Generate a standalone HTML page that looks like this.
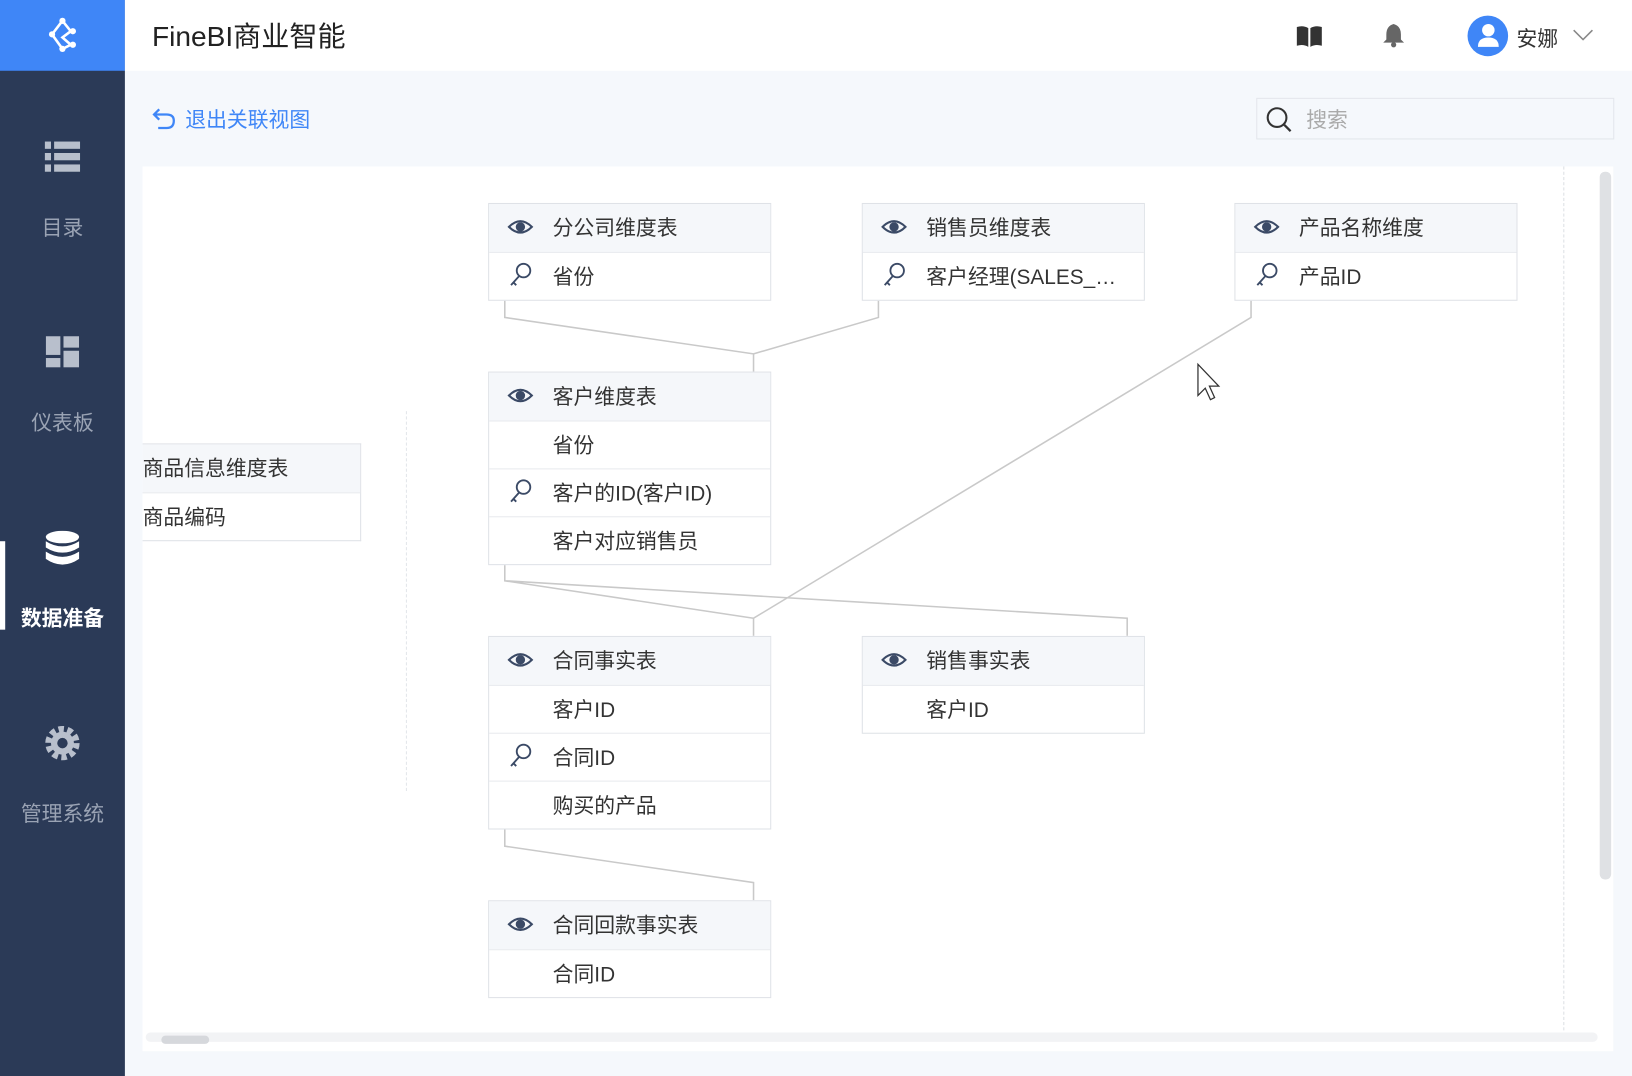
<!DOCTYPE html>
<html><head><meta charset="utf-8"><style>
*{margin:0;padding:0;box-sizing:border-box}
body{width:1632px;height:1076px;overflow:hidden;background:#f5f8fc;font-family:"Liberation Sans","Noto Sans CJK SC",sans-serif}
#w{position:absolute;left:0;top:0;width:1568px;height:1034px;transform:scale(1.0408);transform-origin:0 0;background:#f5f8fc}
.a{position:absolute}
.side{left:0;top:0;width:120px;height:1034px;background:#2b3a57}
.logo{left:0;top:0;width:120px;height:68px;background:#3f86f7}
.lbl{width:120px;text-align:center;font-size:20px;color:#9aa3b4}
.hdr{left:120px;top:0;width:1448px;height:68px;background:#fff}
.t{position:absolute;width:272px;background:#fff;border:1px solid #dfe2e7}
.t div{height:46px;border-top:1px solid #e8eaee;font-size:20px;color:#333;line-height:48px;padding-left:61px;position:relative}
.t div:first-child{border-top:none;background:#f5f7fa}
</style></head><body><div id="w">
<div class="a side"></div>
<div class="a logo"><svg width="120" height="68"><g fill="none" stroke="#fff" stroke-width="2.5"><path d="M60 20 L50 33 L60 47 M60 20 L68 30 L60 36 L68 43 L60 47"/></g><g fill="#fff"><circle cx="60" cy="20" r="3"/><circle cx="50" cy="33" r="3"/><circle cx="60" cy="47" r="3"/><circle cx="70" cy="30" r="3"/><circle cx="70" cy="43" r="3"/></g></svg></div>
<svg class="a" style="left:43px;top:136px" width="34" height="30" fill="#b8bfcc"><rect x="0" y="0" width="6" height="7"/><rect x="9" y="0" width="25" height="7"/><rect x="0" y="11" width="6" height="7"/><rect x="9" y="11" width="25" height="7"/><rect x="0" y="22" width="6" height="7"/><rect x="9" y="22" width="25" height="7"/></svg>
<div class="a lbl" style="top:203px">目录</div>
<svg class="a" style="left:44px;top:323px" width="32" height="30" fill="#b8bfcc"><rect x="0" y="0" width="14" height="18"/><rect x="17" y="0" width="15" height="11"/><rect x="0" y="21" width="14" height="9"/><rect x="17" y="14" width="15" height="16"/></svg>
<div class="a lbl" style="top:390px">仪表板</div>
<div class="a" style="left:0;top:520px;width:5px;height:85px;background:#fff"></div>
<svg class="a" style="left:43px;top:510px" width="34" height="34" fill="#fff"><ellipse cx="17" cy="6" rx="16" ry="6"/><path d="M1 10 Q17 20 33 10 V16 Q17 26 1 16Z"/><path d="M1 20 Q17 30 33 20 V27 Q17 38 1 27Z"/></svg>
<div class="a lbl" style="top:578px;color:#fff;font-weight:bold">数据准备</div>
<svg class="a" style="left:42px;top:696px" width="36" height="36"><circle cx="18" cy="18" r="13" fill="none" stroke="#b8bfcc" stroke-width="7" stroke-dasharray="5 3.2"/><circle cx="18" cy="18" r="11" fill="#b8bfcc"/><circle cx="18" cy="18" r="5" fill="#2b3a57"/></svg>
<div class="a lbl" style="top:766px">管理系统</div>
<div class="a hdr"></div>
<div class="a" style="left:146px;top:13px;font-size:27px;color:#222">FineBI商业智能</div>
<svg class="a" style="left:1245px;top:24px" width="26" height="22" fill="#333"><path d="M1 2 Q7 0 12 3 V21 Q7 18 1 20Z M14 3 Q19 0 25 2 V20 Q19 18 14 21Z"/></svg>
<svg class="a" style="left:1328px;top:22px" width="22" height="24" fill="#666"><path d="M11 1 Q4 3 4 11 V16 L1 19 H21 L18 16 V11 Q18 3 11 1Z"/><circle cx="11" cy="21" r="2.5"/></svg>
<div class="a" style="left:1410px;top:15px;width:39px;height:39px;border-radius:50%;background:#3f86f7"></div>
<svg class="a" style="left:1418px;top:22px" width="24" height="24" fill="#fff"><circle cx="12" cy="7" r="6"/><path d="M2 23 Q2 14 12 14 Q22 14 22 23Z"/></svg>
<div class="a" style="left:1457px;top:21px;font-size:20px;color:#333">安娜</div>
<svg class="a" style="left:1510px;top:27px" width="22" height="14"><path d="M2 2 L11 11 L20 2" fill="none" stroke="#888" stroke-width="1.5"/></svg>
<svg class="a" style="left:145px;top:102px" width="26" height="24"><path d="M8 3 L3 8 L8 13 M3 8 H15 Q22 8 22 14 Q22 21 15 21 H7" fill="none" stroke="#3f86f7" stroke-width="2.2"/></svg>
<div class="a" style="left:178px;top:99px;font-size:20px;color:#3f86f7">退出关联视图</div>
<div class="a" style="left:1207px;top:94px;width:344px;height:40px;border:1px solid #e3e6eb;background:#f5f8fc"></div>
<svg class="a" style="left:1215px;top:101px" width="28" height="28"><circle cx="12" cy="12" r="9" fill="none" stroke="#333" stroke-width="2"/><path d="M19 19 L25 25" stroke="#333" stroke-width="2.2"/></svg>
<div class="a" style="left:1255px;top:99px;font-size:20px;color:#aaa">搜索</div>
<div class="a" style="left:137px;top:160px;width:1413px;height:850px;background:#fff;overflow:hidden">
<div class="a" style="left:1365px;top:0;height:830px;border-left:1px dashed #dde0e5"></div>
<div class="a" style="left:253px;top:235px;height:365px;border-left:1px dashed #e3e6ea"></div>
<div class="a" style="left:1400px;top:5px;width:11px;height:680px;background:#dfe1e4;border-radius:5px"></div>
<div class="a" style="left:3px;top:832px;width:1395px;height:9px;background:#f2f3f5;border-radius:5px"></div>
<div class="a" style="left:18px;top:835px;width:46px;height:8px;background:#d6d8dc;border-radius:4px"></div>
</div>
<svg class="a" style="left:0;top:0" width="1568" height="1034"><g fill="none" stroke="#c9c9c9" stroke-width="1.5">
<path d="M485 287 V305 L724 340 V357 M844 287 V305 L724 340"/>
<path d="M1202 287 V305 L724 594 V611"/>
<path d="M485 541 V558 L724 594 M485 558 L1083 594 V611"/>
<path d="M485 795 V813 L724 848 V865"/></g>
<path d="M1151 350 V380 L1158 373 L1163 384 L1167 382 L1162 371 L1171 371Z" fill="#fff" stroke="#333" stroke-width="1.2"/>
<defs><g id="eye"><path d="M1 9 Q12 -2 23 9 Q12 20 1 9Z" fill="none" stroke="#3b4a66" stroke-width="2"/><circle cx="12" cy="9" r="4.5" fill="#3b4a66"/></g>
<g id="key"><circle cx="14" cy="8" r="6.5" fill="none" stroke="#3b4a66" stroke-width="1.8"/><path d="M10 13 L2 22 M4 19 L7 22" stroke="#3b4a66" stroke-width="1.8"/></g></defs>
</svg>
<div class="t" style="left:469px;top:195px"><div>分公司维度表</div><div>省份</div></div>
<div class="t" style="left:828px;top:195px"><div>销售员维度表</div><div>客户经理(SALES_…</div></div>
<div class="t" style="left:1186px;top:195px"><div>产品名称维度</div><div>产品ID</div></div>
<div class="t" style="left:469px;top:357px"><div>客户维度表</div><div>省份</div><div>客户的ID(客户ID)</div><div>客户对应销售员</div></div>
<div class="t" style="left:137px;top:426px;width:210px;border-left:none"><div style="padding-left:0">商品信息维度表</div><div style="padding-left:0">商品编码</div></div>
<div class="t" style="left:469px;top:611px"><div>合同事实表</div><div>客户ID</div><div>合同ID</div><div>购买的产品</div></div>
<div class="t" style="left:828px;top:611px"><div>销售事实表</div><div>客户ID</div></div>
<div class="t" style="left:469px;top:865px"><div>合同回款事实表</div><div>合同ID</div></div>
<svg class="a" style="left:0;top:0;pointer-events:none" width="1568" height="1034">
<use href="#eye" x="488" y="209"/><use href="#eye" x="847" y="209"/><use href="#eye" x="1205" y="209"/><use href="#eye" x="488" y="371"/><use href="#eye" x="488" y="625"/><use href="#eye" x="847" y="625"/><use href="#eye" x="488" y="879"/>
<use href="#key" x="489" y="252"/><use href="#key" x="848" y="252"/><use href="#key" x="1206" y="252"/><use href="#key" x="489" y="460"/><use href="#key" x="489" y="714"/>
</svg>
</div></body></html>
